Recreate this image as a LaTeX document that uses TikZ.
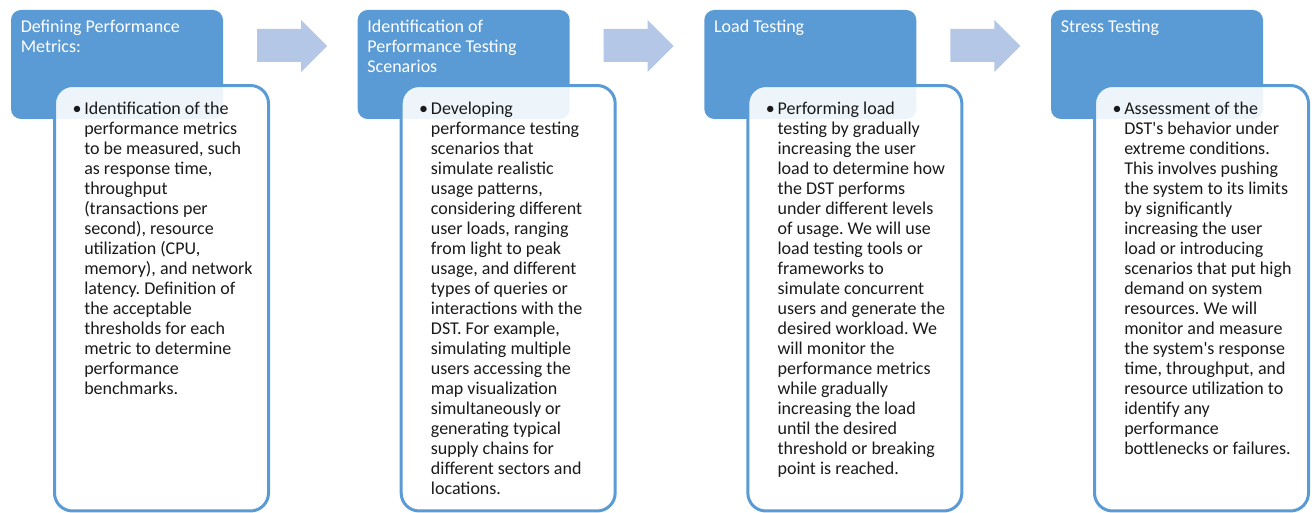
\documentclass[tikz,border=0pt]{standalone}
\usepackage{fontspec}
\setmainfont{Carlito}[Ligatures=TeXOff]
\frenchspacing
\definecolor{headblue}{HTML}{5B9BD5}
\definecolor{arrowblue}{HTML}{B4C7E7}
\definecolor{bodytext}{HTML}{1A1A1A}
\begin{document}
\begin{tikzpicture}[x=0.75pt,y=-0.75pt,
  head/.style={fill=headblue, draw=none, rounded corners=7.5pt,
    minimum width=159pt, minimum height=81.75pt, inner sep=0pt},
  detail/.style={draw=headblue, line width=2.25pt, fill=white, fill opacity=0.9,
    rounded corners=13.5pt, minimum width=160.5pt, minimum height=319.1pt, inner sep=0pt},
  title/.style={anchor=base west, inner sep=0pt, text=white, font=\fontsize{13.5pt}{15pt}\selectfont},
  body/.style={anchor=base west, inner sep=0pt, text=bodytext, font=\fontsize{13.5pt}{15pt}\selectfont},
  dot/.style={anchor=base, inner sep=0pt, text=bodytext, font=\fontsize{13.5pt}{15pt}\selectfont},
  flow/.style={fill=arrowblue, draw=none}
]
\useasboundingbox (0,0) rectangle (1316,513);

% block arrows between the stages
\foreach \k in {0,1,2} {
  \fill[flow, xshift=\k*260pt] (257,29) -- (301,29) -- (301,20) -- (327,46) -- (301,72) -- (301,62) -- (257,62) -- cycle;
}

% stage 1
\begin{scope}
  \node[head] (h1) at (117,64.5) {};
  \node[title] (t1) at (20.5,33) {\begin{minipage}[t]{160pt}\raggedright
    Defining Performance\\Metrics:\end{minipage}};
  \node[detail] (d1) at (161.5,298.25) {};
  \node[dot] (b1) at (77,115) {•};
  \node[body] (p1) at (84,115) {\begin{minipage}[t]{150pt}\raggedright
    Identification of the\\
    performance metrics\\
    to be measured, such\\
    as response time,\\
    throughput\\
    (transactions per\\
    second), resource\\
    utilization (CPU,\\
    memory), and network\\
    latency. Definition of\\
    the acceptable\\
    thresholds for each\\
    metric to determine\\
    performance\\
    benchmarks.\end{minipage}};
\end{scope}

% stage 2
\begin{scope}[xshift=260pt]
  \node[head] (h2) at (117,64.5) {};
  \node[title] (t2) at (20.5,33) {\begin{minipage}[t]{160pt}\raggedright
    Identification of\\Performance Testing\\Scenarios\end{minipage}};
  \node[detail] (d2) at (161.5,298.25) {};
  \node[dot] (b2) at (77,115) {•};
  \node[body] (p2) at (84,115) {\begin{minipage}[t]{150pt}\raggedright
    Developing\\
    performance testing\\
    scenarios that\\
    simulate realistic\\
    usage patterns,\\
    considering different\\
    user loads, ranging\\
    from light to peak\\
    usage, and different\\
    types of queries or\\
    interactions with the\\
    DST. For example,\\
    simulating multiple\\
    users accessing the\\
    map visualization\\
    simultaneously or\\
    generating typical\\
    supply chains for\\
    different sectors and\\
    locations.\end{minipage}};
\end{scope}

% stage 3
\begin{scope}[xshift=520pt]
  \node[head] (h3) at (117,64.5) {};
  \node[title] (t3) at (20.5,33) {\begin{minipage}[t]{160pt}\raggedright
    Load Testing\end{minipage}};
  \node[detail] (d3) at (161.5,298.25) {};
  \node[dot] (b3) at (77,115) {•};
  \node[body] (p3) at (84,115) {\begin{minipage}[t]{150pt}\raggedright
    Performing load\\
    testing by gradually\\
    increasing the user\\
    load to determine how\\
    the DST performs\\
    under different levels\\
    of usage. We will use\\
    load testing tools or\\
    frameworks to\\
    simulate concurrent\\
    users and generate the\\
    desired workload. We\\
    will monitor the\\
    performance metrics\\
    while gradually\\
    increasing the load\\
    until the desired\\
    threshold or breaking\\
    point is reached.\end{minipage}};
\end{scope}

% stage 4
\begin{scope}[xshift=780pt]
  \node[head] (h4) at (117,64.5) {};
  \node[title] (t4) at (20.5,33) {\begin{minipage}[t]{160pt}\raggedright
    Stress Testing\end{minipage}};
  \node[detail] (d4) at (161.5,298.25) {};
  \node[dot] (b4) at (77,115) {•};
  \node[body] (p4) at (84,115) {\begin{minipage}[t]{150pt}\raggedright
    Assessment of the\\
    DST's behavior under\\
    extreme conditions.\\
    This involves pushing\\
    the system to its limits\\
    by significantly\\
    increasing the user\\
    load or introducing\\
    scenarios that put high\\
    demand on system\\
    resources. We will\\
    monitor and measure\\
    the system's response\\
    time, throughput, and\\
    resource utilization to\\
    identify any\\
    performance\\
    bottlenecks or failures.\end{minipage}};
\end{scope}
\end{tikzpicture}
\end{document}
